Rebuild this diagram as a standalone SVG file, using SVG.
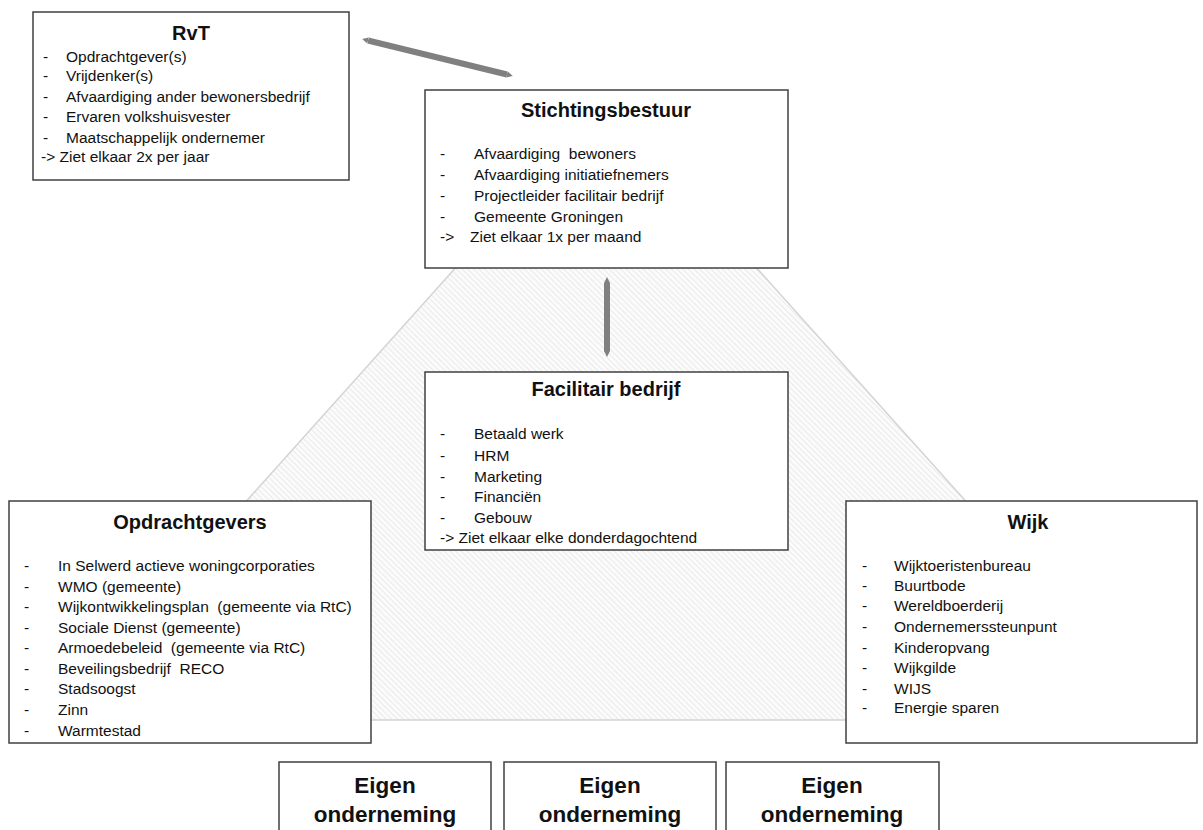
<svg xmlns="http://www.w3.org/2000/svg" width="1203" height="830" viewBox="0 0 1203 830">
  <style>
    .box { fill: #ffffff; stroke: #404040; stroke-width: 1.5; }
    .t { font-family: "Liberation Sans", Arial, sans-serif; font-size: 15.5px; fill: #111111; }
    .h { font-family: "Liberation Sans", Arial, sans-serif; font-size: 20px; font-weight: bold; fill: #111111; text-anchor: middle; }
    .e { font-family: "Liberation Sans", Arial, sans-serif; font-size: 22.5px; font-weight: bold; fill: #111111; text-anchor: middle; }
    .conn { stroke: #808080; stroke-width: 6; fill: none; }
  </style>
  <defs>
    <pattern id="hatch" patternUnits="userSpaceOnUse" width="4" height="4" patternTransform="rotate(-45)">
      <rect width="4" height="4" fill="#fbfbfb"/>
      <line x1="0" y1="0" x2="0" y2="4" stroke="#e3e3e3" stroke-width="1.4"/>
    </pattern>
    <marker id="ah" viewBox="0 0 10 10" refX="0" refY="5" markerWidth="6" markerHeight="10" markerUnits="userSpaceOnUse" orient="auto-start-reverse">
      <path d="M0,0 L10,5 L0,10 z" fill="#808080"/>
    </marker>
  </defs>

  <g id="background">
    <polygon points="606,100 50,720 1162,720" fill="url(#hatch)" stroke="#d4d4d4" stroke-width="1.5"/>
  </g>

  <g id="connectors">
    <line class="conn" x1="368" y1="40.5" x2="507" y2="74.5" marker-start="url(#ah)" marker-end="url(#ah)"/>
    <line class="conn" x1="607" y1="283" x2="607" y2="351" marker-start="url(#ah)" marker-end="url(#ah)"/>
  </g>

  <g id="rvt">
    <rect class="box" x="33" y="12" width="316" height="168"/>
    <text class="h" x="191" y="40">RvT</text>
    <text class="t" x="43" y="62">-</text><text class="t" x="66" y="62">Opdrachtgever(s)</text>
    <text class="t" x="43" y="81">-</text><text class="t" x="66" y="81">Vrijdenker(s)</text>
    <text class="t" x="43" y="102">-</text><text class="t" x="66" y="102">Afvaardiging ander bewonersbedrijf</text>
    <text class="t" x="43" y="122">-</text><text class="t" x="66" y="122">Ervaren volkshuisvester</text>
    <text class="t" x="43" y="143">-</text><text class="t" x="66" y="143">Maatschappelijk ondernemer</text>
    <text class="t" x="41" y="162">-&gt; Ziet elkaar 2x per jaar</text>
  </g>

  <g id="stichtingsbestuur">
    <rect class="box" x="425" y="90" width="363" height="178"/>
    <text class="h" x="606" y="117">Stichtingsbestuur</text>
    <text class="t" x="440" y="159">-</text><text class="t" x="474" y="159" xml:space="preserve">Afvaardiging  bewoners</text>
    <text class="t" x="440" y="180">-</text><text class="t" x="474" y="180">Afvaardiging initiatiefnemers</text>
    <text class="t" x="440" y="201">-</text><text class="t" x="474" y="201">Projectleider facilitair bedrijf</text>
    <text class="t" x="440" y="222">-</text><text class="t" x="474" y="222">Gemeente Groningen</text>
    <text class="t" x="440" y="242">-&gt;</text><text class="t" x="470" y="242">Ziet elkaar 1x per maand</text>
  </g>

  <g id="facilitair-bedrijf">
    <rect class="box" x="425" y="372" width="363" height="178"/>
    <text class="h" x="606" y="396">Facilitair bedrijf</text>
    <text class="t" x="440" y="439">-</text><text class="t" x="474" y="439">Betaald werk</text>
    <text class="t" x="440" y="461">-</text><text class="t" x="474" y="461">HRM</text>
    <text class="t" x="440" y="482">-</text><text class="t" x="474" y="482">Marketing</text>
    <text class="t" x="440" y="502">-</text><text class="t" x="474" y="502">Financiën</text>
    <text class="t" x="440" y="523">-</text><text class="t" x="474" y="523">Gebouw</text>
    <text class="t" x="440" y="543">-&gt; Ziet elkaar elke donderdagochtend</text>
  </g>

  <g id="opdrachtgevers">
    <rect class="box" x="9" y="501" width="362" height="242"/>
    <text class="h" x="190" y="529">Opdrachtgevers</text>
    <text class="t" x="24" y="571">-</text><text class="t" x="58" y="571">In Selwerd actieve woningcorporaties</text>
    <text class="t" x="24" y="592">-</text><text class="t" x="58" y="592">WMO (gemeente)</text>
    <text class="t" x="24" y="612">-</text><text class="t" x="58" y="612" xml:space="preserve">Wijkontwikkelingsplan  (gemeente via RtC)</text>
    <text class="t" x="24" y="633">-</text><text class="t" x="58" y="633">Sociale Dienst (gemeente)</text>
    <text class="t" x="24" y="653">-</text><text class="t" x="58" y="653" xml:space="preserve">Armoedebeleid  (gemeente via RtC)</text>
    <text class="t" x="24" y="674">-</text><text class="t" x="58" y="674" xml:space="preserve">Beveilingsbedrijf  RECO</text>
    <text class="t" x="24" y="694">-</text><text class="t" x="58" y="694">Stadsoogst</text>
    <text class="t" x="24" y="715">-</text><text class="t" x="58" y="715">Zinn</text>
    <text class="t" x="24" y="736">-</text><text class="t" x="58" y="736">Warmtestad</text>
  </g>

  <g id="wijk">
    <rect class="box" x="846" y="501" width="351" height="242"/>
    <text class="h" x="1028" y="529">Wijk</text>
    <text class="t" x="862" y="571">-</text><text class="t" x="894" y="571">Wijktoeristenbureau</text>
    <text class="t" x="862" y="591">-</text><text class="t" x="894" y="591">Buurtbode</text>
    <text class="t" x="862" y="611">-</text><text class="t" x="894" y="611">Wereldboerderij</text>
    <text class="t" x="862" y="632">-</text><text class="t" x="894" y="632">Ondernemerssteunpunt</text>
    <text class="t" x="862" y="653">-</text><text class="t" x="894" y="653">Kinderopvang</text>
    <text class="t" x="862" y="673">-</text><text class="t" x="894" y="673">Wijkgilde</text>
    <text class="t" x="862" y="694">-</text><text class="t" x="894" y="694">WIJS</text>
    <text class="t" x="862" y="713">-</text><text class="t" x="894" y="713">Energie sparen</text>
  </g>

  <g id="eigen-onderneming-1">
    <rect class="box" x="279" y="762" width="212" height="80"/>
    <text class="e" x="385" y="793">Eigen</text>
    <text class="e" x="385" y="822">onderneming</text>
  </g>
  <g id="eigen-onderneming-2">
    <rect class="box" x="504" y="762" width="212" height="80"/>
    <text class="e" x="610" y="793">Eigen</text>
    <text class="e" x="610" y="822">onderneming</text>
  </g>
  <g id="eigen-onderneming-3">
    <rect class="box" x="726" y="762" width="213" height="80"/>
    <text class="e" x="832" y="793">Eigen</text>
    <text class="e" x="832" y="822">onderneming</text>
  </g>
</svg>
